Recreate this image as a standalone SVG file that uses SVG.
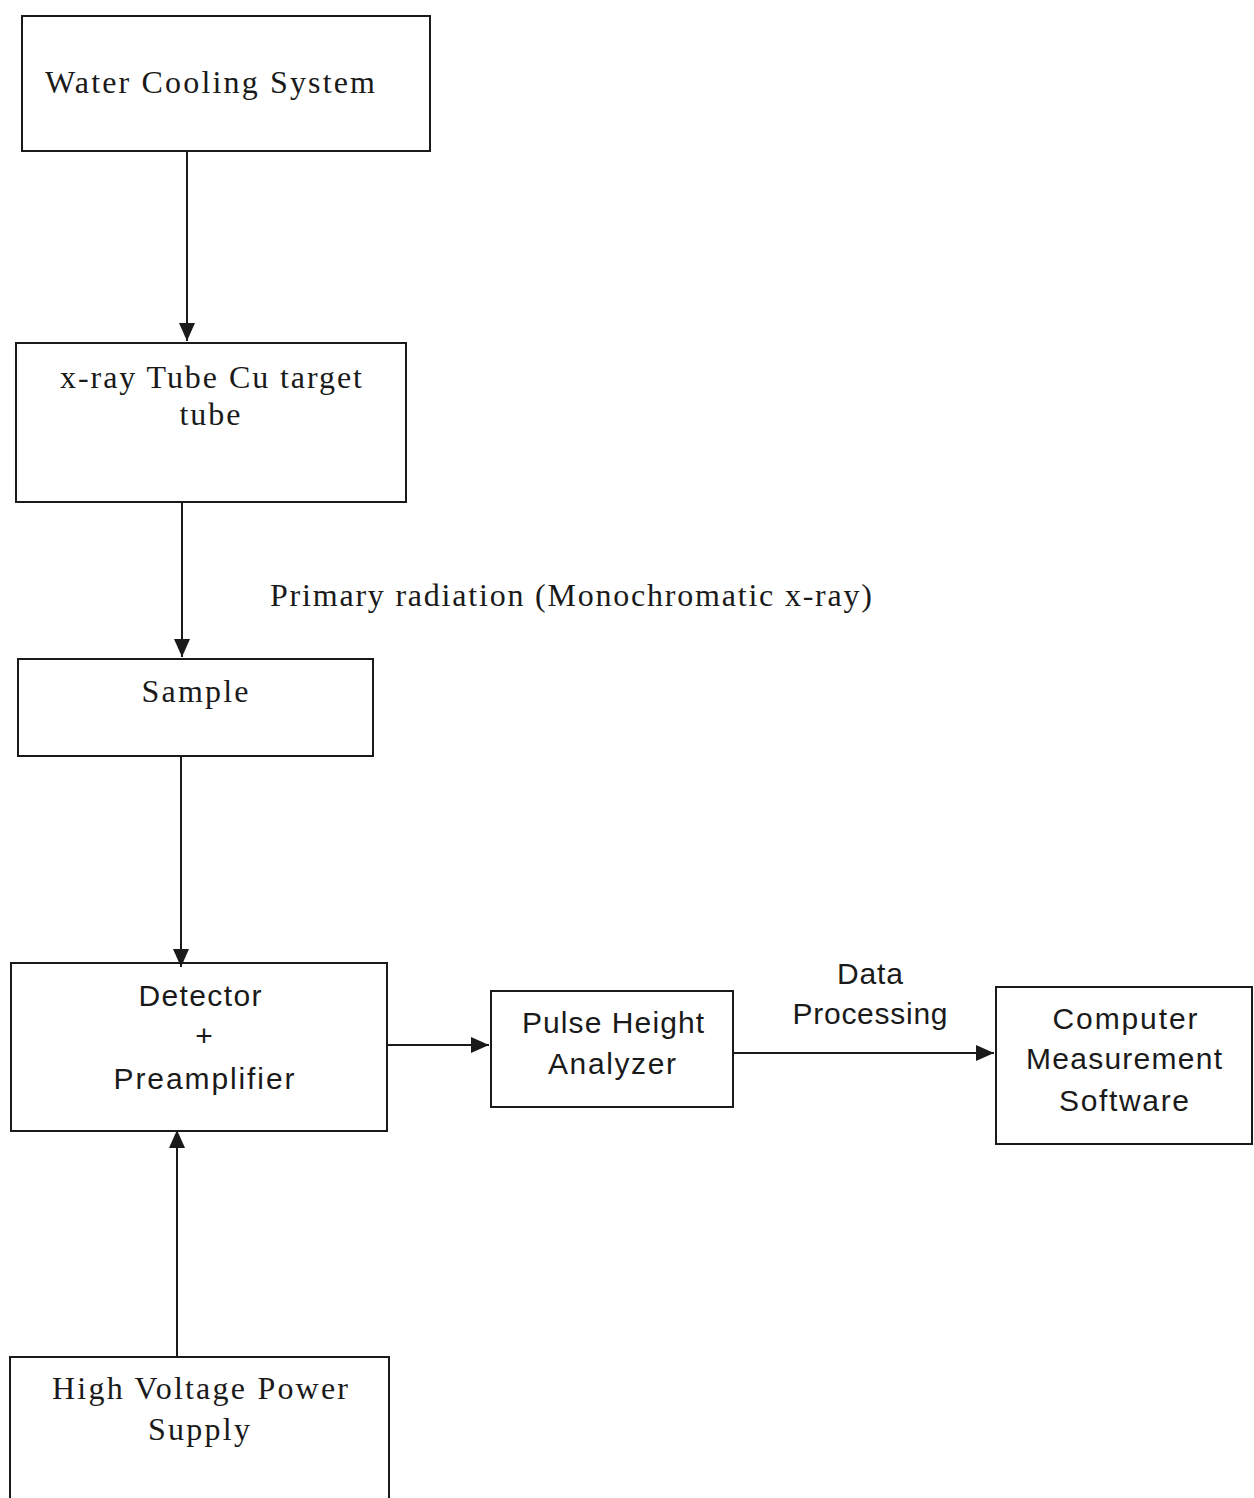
<svg xmlns="http://www.w3.org/2000/svg" width="1254" height="1498" viewBox="0 0 1254 1498">
<style>
.box{fill:#fff;stroke:#1a1a1a;stroke-width:2}
.t{font-family:"Liberation Serif","Times New Roman",serif;font-size:32px;fill:#1a1a1a;text-anchor:middle}
.s{font-family:"Liberation Sans",Arial,sans-serif;font-size:30px;fill:#1a1a1a;text-anchor:middle}
.c{stroke:#1a1a1a;stroke-width:2;fill:none;marker-end:url(#ah)}
</style>
<defs>
<marker id="ah" viewBox="0 0 18 16" refX="18" refY="8" markerWidth="18" markerHeight="16" markerUnits="userSpaceOnUse" orient="auto">
<path d="M0,0 L18,8 L0,16 z" fill="#1a1a1a"/>
</marker>
</defs>
<rect width="1254" height="1498" fill="#fff"/>
<g id="n1"><rect class="box" x="22" y="16" width="408" height="135"/><text class="t" x="210" y="93" textLength="330">Water Cooling System</text></g>
<g id="n2"><rect class="box" x="16" y="343" width="390" height="159"/><text class="t" x="211" y="388" textLength="302">x-ray Tube Cu target</text><text class="t" x="210" y="425" textLength="61">tube</text></g>
<g id="n3"><rect class="box" x="18" y="659" width="355" height="97"/><text class="t" x="195" y="702" textLength="107">Sample</text></g>
<g id="n4"><rect class="box" x="11" y="963" width="376" height="168"/><text class="s" x="200" y="1006" textLength="123">Detector</text><text class="s" x="204" y="1046">+</text><text class="s" x="204" y="1089" textLength="181">Preamplifier</text></g>
<g id="n5"><rect class="box" x="491" y="991" width="242" height="116"/><text class="s" x="613" y="1033" textLength="182">Pulse Height</text><text class="s" x="612" y="1074" textLength="128">Analyzer</text></g>
<g id="n6"><rect class="box" x="996" y="987" width="256" height="157"/><text class="s" x="1125" y="1029" textLength="145">Computer</text><text class="s" x="1124" y="1069" textLength="196">Measurement</text><text class="s" x="1124" y="1111" textLength="130">Software</text></g>
<g id="n7"><rect class="box" x="10" y="1357" width="379" height="145"/><text class="t" x="200" y="1399" textLength="296">High Voltage Power</text><text class="t" x="199" y="1440" textLength="102">Supply</text></g>
<g id="connectors">
<line class="c" x1="187" y1="151" x2="187" y2="341"/>
<line class="c" x1="182" y1="502" x2="182" y2="657"/>
<line class="c" x1="181" y1="756" x2="181" y2="967"/>
<line class="c" x1="177" y1="1357" x2="177" y2="1130"/>
<line class="c" x1="387" y1="1045" x2="489" y2="1045"/>
<line class="c" x1="733" y1="1053" x2="994" y2="1053"/>
</g>
<text class="t" x="571" y="606" textLength="602">Primary radiation (Monochromatic x-ray)</text>
<text class="s" x="870" y="984" textLength="66">Data</text>
<text class="s" x="870" y="1024" textLength="155">Processing</text>
</svg>
